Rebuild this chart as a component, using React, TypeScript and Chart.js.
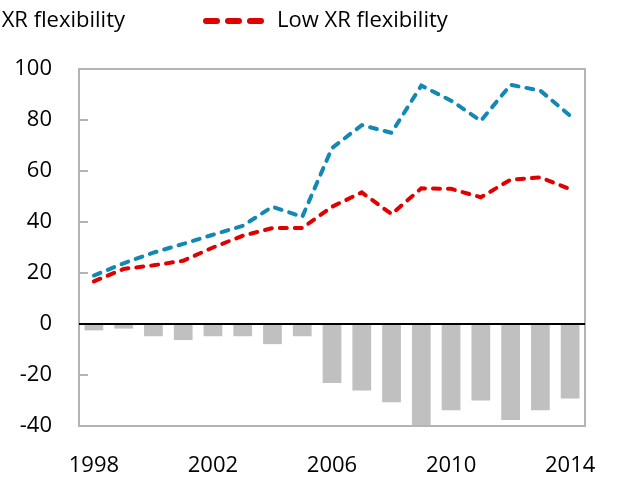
import React, { useEffect, useRef } from 'react';
import { Chart, registerables } from 'chart.js';

Chart.register(...registerables);

const years = ['1998','1999','2000','2001','2002','2003','2004','2005','2006','2007','2008','2009','2010','2011','2012','2013','2014'];
const highFlex = [19, 23.8, 28, 31.4, 35, 38.5, 46, 42, 69, 78, 75, 93.5, 87.6, 79.7, 93.8, 91.5, 81.7];
const lowFlex = [16.7, 21.6, 23, 24.8, 30, 34.6, 37.6, 37.6, 46, 51.6, 43.1, 53.2, 53, 49.7, 56.6, 57.5, 52.9];
const difference = [-2.5, -1.8, -4.8, -6.3, -4.8, -4.8, -7.9, -4.8, -23.1, -26.1, -30.7, -40.5, -33.8, -30, -37.6, -33.8, -29.2];
const yTicks = [-40, -20, 0, 20, 40, 60, 80, 100];
const legendLabels = ['High XR flexibility', 'Low XR flexibility'];

const BLUE = '#1388b4';
const RED = '#e00000';
const GRAY_BAR = '#c0c0c0';
const FRAME = '#b4b4b4';
const FONT = '"Open Sans", "Noto Sans", sans-serif';

const framePlugin = {
  id: 'framePlugin',
  afterDatasetsDraw(chart: any) {
    const { ctx, chartArea: a, scales } = chart;
    const y = scales.y;
    ctx.save();
    ctx.strokeStyle = FRAME;
    ctx.lineWidth = 2;
    yTicks.forEach((v) => {
      const py = Math.round(y.getPixelForValue(v));
      ctx.beginPath();
      ctx.moveTo(a.left, py);
      ctx.lineTo(a.left + 9, py);
      ctx.stroke();
    });
    ctx.strokeRect(a.left, a.top, a.right - a.left, a.bottom - a.top);
    const z = Math.round(y.getPixelForValue(0));
    ctx.strokeStyle = '#000';
    ctx.lineWidth = 2;
    ctx.beginPath();
    ctx.moveTo(a.left, z);
    ctx.lineTo(a.right, z);
    ctx.stroke();
    ctx.restore();
  },
  afterDraw(chart: any) {
    const { ctx } = chart;
    ctx.save();
    ctx.font = '22px ' + FONT;
    ctx.textBaseline = 'middle';
    ctx.fillStyle = '#000';
    const ly = 21;
    const drawMarker = (x0: number, color: string) => {
      ctx.strokeStyle = color;
      ctx.lineWidth = 6;
      ctx.lineCap = 'round';
      for (let i = 0; i < 3; i++) {
        const s = x0 + 3 + i * 22;
        ctx.beginPath();
        ctx.moveTo(s, ly);
        ctx.lineTo(s + 11, ly);
        ctx.stroke();
      }
    };
    const t1 = legendLabels[0];
    const w1 = ctx.measureText(t1).width;
    const end1 = 125;
    ctx.textAlign = 'left';
    ctx.fillText(t1, end1 - w1, ly);
    drawMarker(end1 - w1 - 14 - 61, BLUE);
    drawMarker(203, RED);
    ctx.fillText(legendLabels[1], 277, ly);
    ctx.restore();
  },
};

export default function App() {
  const ref = useRef<HTMLCanvasElement | null>(null);
  useEffect(() => {
    if (!ref.current) return;
    const chart = new Chart(ref.current, {
      type: 'bar',
      data: {
        labels: years,
        datasets: [
          {
            type: 'line',
            label: legendLabels[0],
            data: highFlex,
            borderColor: BLUE,
            borderWidth: 4,
            borderDash: [7, 8],
            borderCapStyle: 'round',
            pointRadius: 0,
            fill: false,
            tension: 0,
            order: 1,
          } as any,
          {
            type: 'line',
            label: legendLabels[1],
            data: lowFlex,
            borderColor: RED,
            borderWidth: 4,
            borderDash: [7, 8],
            borderCapStyle: 'round',
            pointRadius: 0,
            fill: false,
            tension: 0,
            order: 1,
          } as any,
          {
            type: 'bar',
            label: 'Difference',
            data: difference,
            backgroundColor: GRAY_BAR,
            barPercentage: 0.63,
            categoryPercentage: 1,
            order: 2,
          },
        ],
      },
      options: {
        responsive: false,
        animation: false,
        layout: { padding: { top: 69, right: 24, left: 0, bottom: 0 } },
        plugins: { legend: { display: false }, tooltip: { enabled: false } },
        scales: {
          x: {
            grid: { display: false, drawTicks: false },
            border: { display: false },
            ticks: {
              autoSkip: false,
              maxRotation: 0,
              padding: 27,
              color: '#000',
              font: { family: FONT, size: 22 },
              callback: (_v: any, i: number) => (i % 4 === 0 ? years[i] : ''),
            },
            afterFit: (s: any) => { s.height = 53; },
          },
          y: {
            min: -40,
            max: 100,
            grid: { display: false, drawTicks: false },
            border: { display: false },
            ticks: {
              stepSize: 20,
              padding: 27,
              color: '#000',
              font: { family: FONT, size: 22 },
            },
            afterFit: (s: any) => { s.width = 79; },
          },
        },
      },
      plugins: [framePlugin],
    });
    return () => chart.destroy();
  }, []);
  return (
    <div style={{ position: 'fixed', left: 0, top: 0, width: 623, height: 479, background: '#fff' }}>
      <canvas ref={ref} width={623} height={479} style={{ display: 'block' }} />
    </div>
  );
}
